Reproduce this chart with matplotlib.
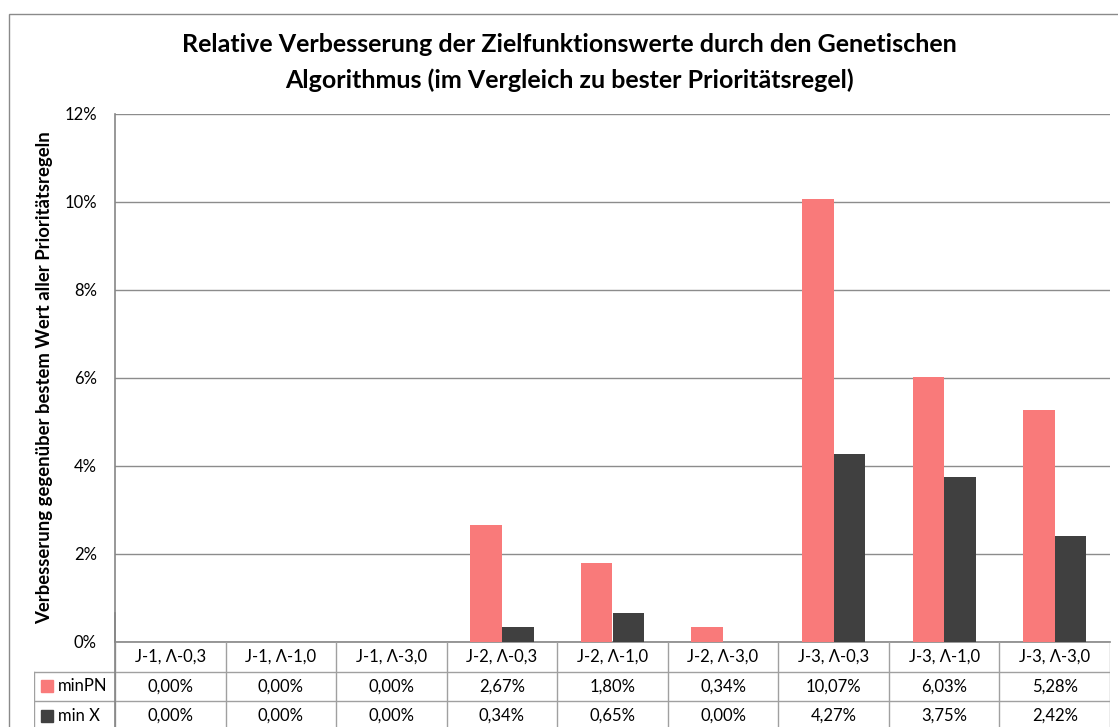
import matplotlib
matplotlib.use("Agg")
import matplotlib.pyplot as plt
from matplotlib.lines import Line2D
from matplotlib.patches import Rectangle

plt.rcParams['font.family'] = ['Lato', 'DejaVu Sans']

# Werte in Prozent
kategorien = ["J-1, Λ-0,3", "J-1, Λ-1,0", "J-1, Λ-3,0",
              "J-2, Λ-0,3", "J-2, Λ-1,0", "J-2, Λ-3,0",
              "J-3, Λ-0,3", "J-3, Λ-1,0", "J-3, Λ-3,0"]
min_pn = [0.00, 0.00, 0.00, 2.67, 1.80, 0.34, 10.07, 6.03, 5.28]
min_x = [0.00, 0.00, 0.00, 0.34, 0.65, 0.00, 4.27, 3.75, 2.42]
serien = ["minPN", "min X"]
farben = ["#F97A7A", "#404040"]
y_ticks = [0, 2, 4, 6, 8, 10, 12]

W, H = 1118, 727
fig = plt.figure(figsize=(W / 100, H / 100), dpi=100)


def px(x0, y0, x1, y1):
    # Pixelkoordinaten (oben links) -> Figure-Koordinaten
    return [x0 / W, 1 - y1 / H, (x1 - x0) / W, (y1 - y0) / H]


# äußerer Rahmen des Diagrammbereichs
fig.patches.append(Rectangle((9 / W, -0.1), 1.2, 1 - 14 / H + 0.1, transform=fig.transFigure,
                             fill=False, edgecolor="#8a8a8a", lw=1.0))

plot_l, plot_r, plot_t, plot_b = 115, 1110, 114, 642
ax = fig.add_axes(px(plot_l, plot_t, plot_r, plot_b))
n = len(kategorien)
bw = 1 / 3.5
xs = list(range(n))
ax.bar([x - bw / 2 for x in xs], min_pn, bw, color=farben[0], zorder=3)
ax.bar([x + bw / 2 for x in xs], min_x, bw, color=farben[1], zorder=3)
ax.set_xlim(-0.5, n - 0.5)
ax.set_ylim(0, 12)
ax.set_yticks(y_ticks)
ax.set_yticklabels([f"{t}%" for t in y_ticks], fontsize=12)
ax.set_xticks([])
ax.tick_params(axis="y", length=0, pad=13)
ax.yaxis.grid(True, color="#8c8c8c", lw=1.0)
ax.set_axisbelow(True)
for s in ["top", "right"]:
    ax.spines[s].set_visible(False)
ax.spines["left"].set_color("#868686")
ax.spines["bottom"].set_color("#868686")
ax.spines["left"].set_linewidth(1.2)
ax.spines["bottom"].set_linewidth(1.2)

fig.text(569 / W, 1 - 45 / H, "Relative Verbesserung der Zielfunktionswerte durch den Genetischen",
         ha="center", va="center", fontsize=18, fontweight="bold")
fig.text(569 / W, 1 - 80 / H, "Algorithmus (im Vergleich zu bester Prioritätsregel)",
         ha="center", va="center", fontsize=18, fontweight="bold")
fig.text(45 / W, 1 - 378 / H, "Verbesserung gegenüber bestem Wert aller Prioritätsregeln",
         ha="center", va="center", rotation=90, fontsize=13.3, fontweight="bold")

# Datentabelle unter dem Diagramm
cat_w = (plot_r - plot_l) / n
leg_l = 34
row_h = 29.5
tab = fig.add_axes(px(leg_l, plot_b, plot_r, H), frameon=False)
tab.set_xlim(-0.5 - (plot_l - leg_l) / cat_w, n - 0.5)
tab.set_ylim((H - plot_b) / row_h, 0)
tab.set_xticks([])
tab.set_yticks([])
grid_c = "#a0a0a0"
x_leg = -0.5 - (plot_l - leg_l) / cat_w
# horizontale Linien
tab.add_line(Line2D([x_leg, n - 0.5], [1, 1], color=grid_c, lw=1.0))
tab.add_line(Line2D([x_leg, n - 0.5], [2, 2], color=grid_c, lw=1.0))
tab.add_line(Line2D([x_leg, n - 0.5], [3, 3], color=grid_c, lw=1.0))
# vertikale Linien
for i in range(n + 1):
    tab.add_line(Line2D([i - 0.5, i - 0.5], [0, 4], color=grid_c, lw=1.0))
tab.add_line(Line2D([-0.5, -0.5], [-1, 4], color="#868686", lw=1.2, clip_on=False))
tab.add_line(Line2D([x_leg, x_leg], [1, 4], color=grid_c, lw=1.0))

for i, k in enumerate(kategorien):
    tab.text(i, 0.5, k, ha="center", va="center", fontsize=12)
for r, (name, werte, c) in enumerate(zip(serien, [min_pn, min_x], farben)):
    y = r + 1.5
    for i, v in enumerate(werte):
        tab.text(i, y, f"{v:.2f}%".replace(".", ","), ha="center", va="center", fontsize=12)
    sq = 12 / cat_w
    tab.add_patch(Rectangle((x_leg + 7 / cat_w, y - 6 / row_h), sq, 12 / row_h, color=c))
    tab.text(x_leg + 24 / cat_w, y, name, ha="left", va="center", fontsize=12)

fig.savefig("out.png", dpi=100)
